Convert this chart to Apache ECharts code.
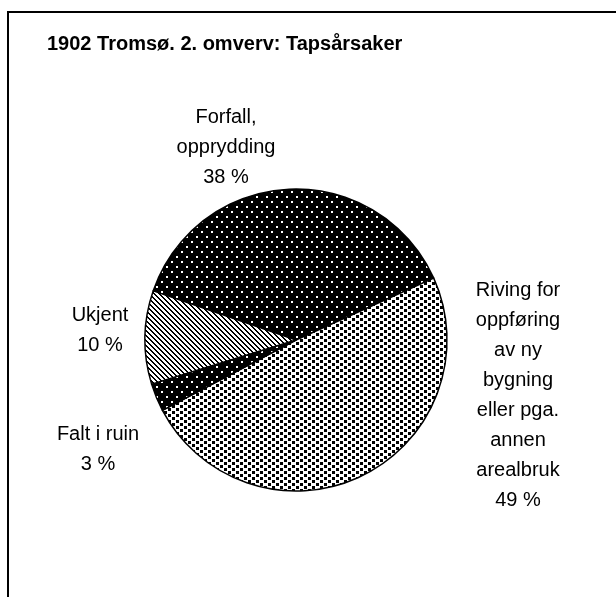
<!DOCTYPE html>
<html>
<head>
<meta charset="utf-8">
<script src="https://cdn.jsdelivr.net/npm/echarts@6/dist/echarts.min.js"></script>
<style>
  html, body { margin: 0; padding: 0; background: #fff; }
  #chart { width: 616px; height: 597px; }
</style>
</head>
<body>
<div id="chart"></div>
<script>
(function () {
  'use strict';

  const categories = [
    'Forfall,\nopprydding',
    'Riving for\noppføring\nav ny\nbygning\neller pga.\nannen\narealbruk',
    'Falt i ruin',
    'Ukjent'
  ];
  const shares = [38, 49, 3, 10];

  // small bitmap fills, like the old Excel pattern fills
  function tile(w, h, bg, fg, draw) {
    const c = document.createElement('canvas');
    c.width = w; c.height = h;
    const ctx = c.getContext('2d');
    ctx.fillStyle = bg; ctx.fillRect(0, 0, w, h);
    ctx.fillStyle = fg;
    draw(ctx, w, h);
    return c;
  }
  const darkDots = tile(10, 10, '#000', '#fff', function (ctx) {
    ctx.fillRect(1, 1, 2, 2);
    ctx.fillRect(6, 6, 2, 2);
  });
  const lightDots = tile(8, 6, '#fff', '#000', function (ctx) {
    ctx.fillRect(0, 0, 3, 3);
    ctx.fillRect(4, 3, 3, 3);
  });
  const hatch = tile(5, 5, '#fff', '#000', function (ctx, w, h) {
    for (let y = 0; y < h; y++) {
      for (let x = 0; x < w; x++) {
        if (((x - y + w) % w) < 2) ctx.fillRect(x, y, 1, 1);
      }
    }
  });
  const fills = [darkDots, lightDots, darkDots, hatch];

  // where the text of each slice sits
  const labelAt = [[226, 147], [518, 395], [98, 449], [100, 330]];

  const chart = echarts.init(document.getElementById('chart'), null, { renderer: 'canvas' });
  chart.setOption({
    backgroundColor: '#fff',
    animation: false,
    title: {
      text: '1902 Tromsø. 2. omverv: Tapsårsaker',
      left: 42,
      top: 29,
      textStyle: { fontFamily: 'Liberation Sans', fontSize: 20, fontWeight: 'bold', color: '#000' }
    },
    graphic: [{
      type: 'rect',
      shape: { x: 8, y: 12, width: 700, height: 700 },
      style: { fill: 'none', stroke: '#000', lineWidth: 2 },
      silent: true
    }],
    series: [{
      type: 'pie',
      center: [296, 340],
      radius: 151,
      startAngle: 161,
      clockwise: true,
      percentPrecision: 0,
      data: categories.map(function (name, i) {
        return {
          name: name,
          value: shares[i],
          itemStyle: { color: { image: fills[i], repeat: 'repeat' } }
        };
      }),
      itemStyle: { borderColor: '#000', borderWidth: 1.5 },
      label: {
        show: true,
        position: 'outside',
        formatter: '{b}\n{d} %',
        fontFamily: 'Liberation Sans',
        fontSize: 20,
        lineHeight: 30,
        color: '#000',
        align: 'center'
      },
      labelLine: { show: false },
      labelLayout: function (p) {
        const pos = labelAt[p.dataIndex];
        return { x: pos[0], y: pos[1], align: 'center', verticalAlign: 'middle' };
      },
      emphasis: { disabled: true }
    }]
  });
})();
</script>
</body>
</html>
